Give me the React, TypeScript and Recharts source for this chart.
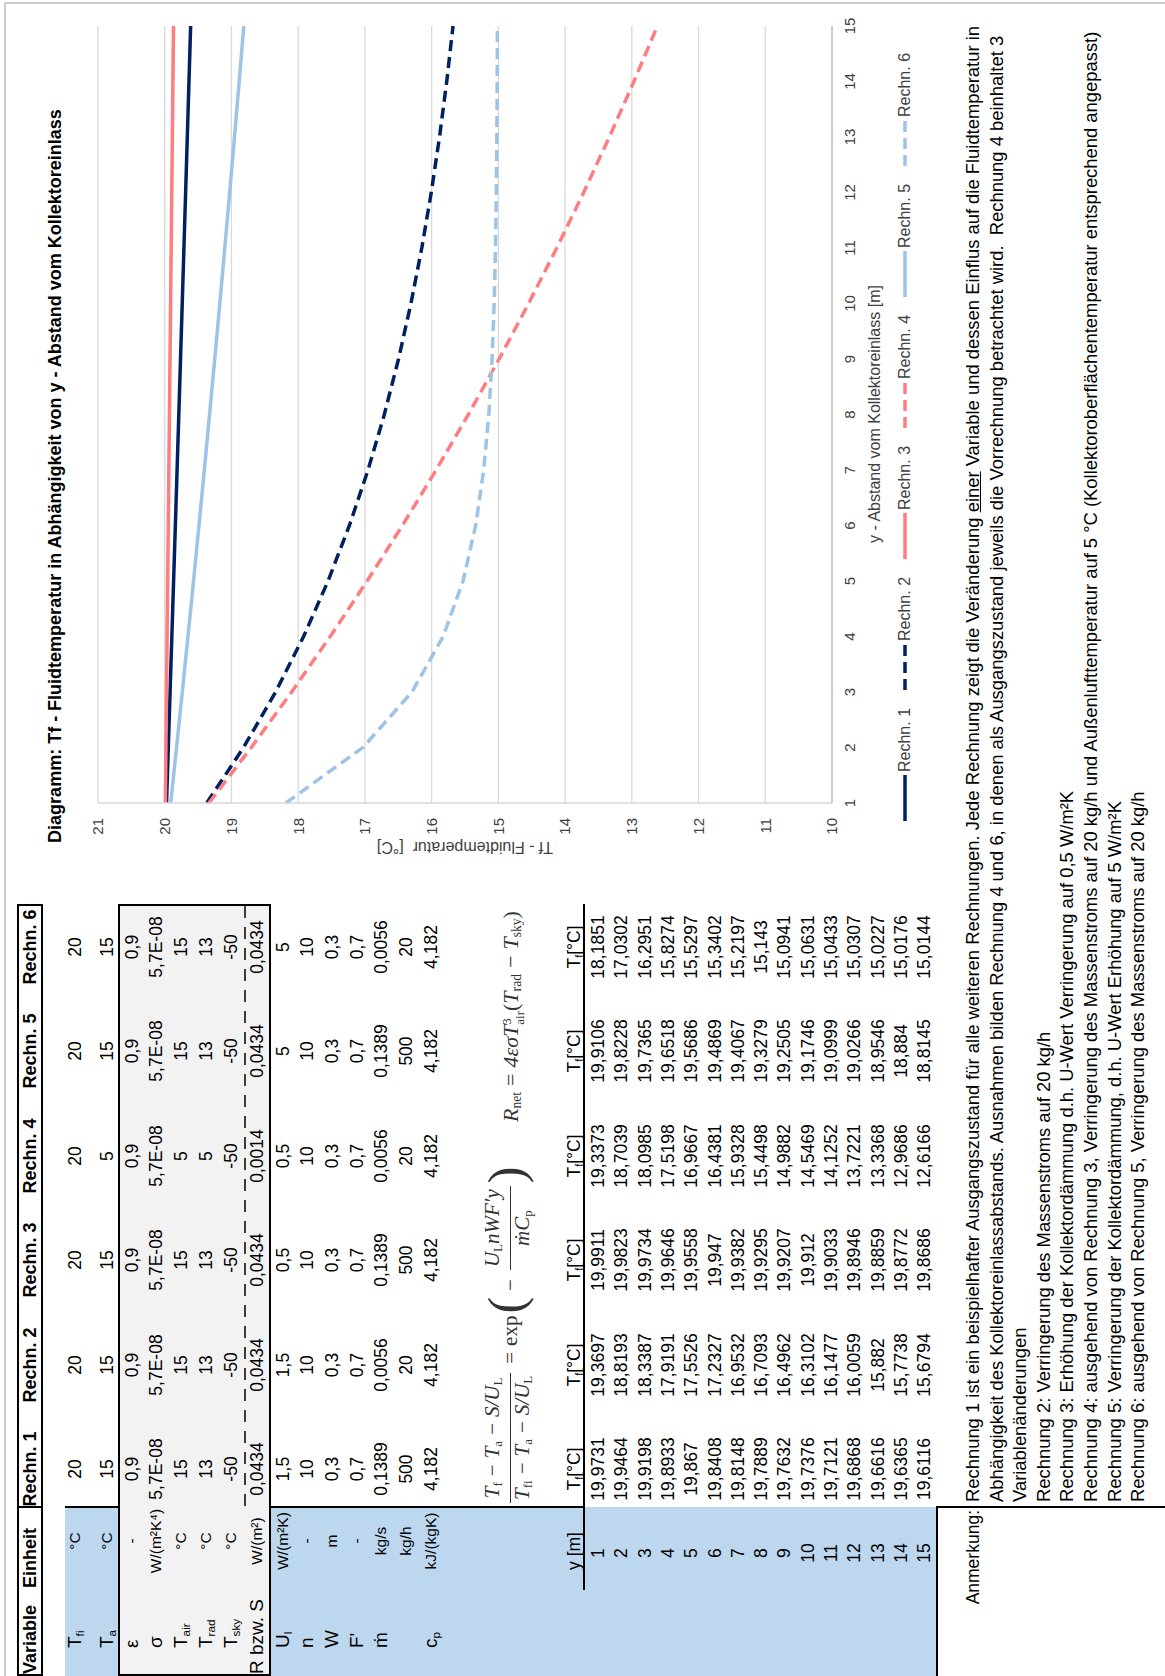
import React from 'react';
import { LineChart, Line, XAxis, YAxis, CartesianGrid, Legend } from 'recharts';

// ---------- data ----------
const positions = [1, 2, 3, 4, 5, 6, 7, 8, 9, 10, 11, 12, 13, 14, 15];
const rechn1 = [19.9731, 19.9464, 19.9198, 19.8933, 19.867, 19.8408, 19.8148, 19.7889, 19.7632, 19.7376, 19.7121, 19.6868, 19.6616, 19.6365, 19.6116];
const rechn2 = [19.3697, 18.8193, 18.3387, 17.9191, 17.5526, 17.2327, 16.9532, 16.7093, 16.4962, 16.3102, 16.1477, 16.0059, 15.882, 15.7738, 15.6794];
const rechn3 = [19.9911, 19.9823, 19.9734, 19.9646, 19.9558, 19.947, 19.9382, 19.9295, 19.9207, 19.912, 19.9033, 19.8946, 19.8859, 19.8772, 19.8686];
const rechn4 = [19.3373, 18.7039, 18.0985, 17.5198, 16.9667, 16.4381, 15.9328, 15.4498, 14.9882, 14.5469, 14.1252, 13.7221, 13.3368, 12.9686, 12.6166];
const rechn5 = [19.9106, 19.8228, 19.7365, 19.6518, 19.5686, 19.4869, 19.4067, 19.3279, 19.2505, 19.1746, 19.0999, 19.0266, 18.9546, 18.884, 18.8145];
const rechn6 = [18.1851, 17.0302, 16.2951, 15.8274, 15.5297, 15.3402, 15.2197, 15.143, 15.0941, 15.0631, 15.0433, 15.0307, 15.0227, 15.0176, 15.0144];

const rechnNames = ['Rechn. 1', 'Rechn. 2', 'Rechn. 3', 'Rechn. 4', 'Rechn. 5', 'Rechn. 6'];
const yTicks = [10, 11, 12, 13, 14, 15, 16, 17, 18, 19, 20, 21];

const varMain = ['T', 'T', 'ε', 'σ', 'T', 'T', 'T', 'R bzw. S', 'U', 'n', 'W', "F'", 'ṁ', '', 'c'];
const varSub = ['fi', 'a', '', '', 'air', 'rad', 'sky', '', 'l', '', '', '', '', '', 'p'];
const units = ['°C', '°C', '-', 'W/(m²K⁴)', '°C', '°C', '°C', 'W/(m²)', 'W/(m²K)', '-', 'm', '-', 'kg/s', 'kg/h', 'kJ/(kgK)'];
const params1 = ['20', '15', '0,9', '5,7E-08', '15', '13', '-50', '0,0434', '1,5', '10', '0,3', '0,7', '0,1389', '500', '4,182'];
const params2 = ['20', '15', '0,9', '5,7E-08', '15', '13', '-50', '0,0434', '1,5', '10', '0,3', '0,7', '0,0056', '20', '4,182'];
const params3 = ['20', '15', '0,9', '5,7E-08', '15', '13', '-50', '0,0434', '0,5', '10', '0,3', '0,7', '0,1389', '500', '4,182'];
const params4 = ['20', '5', '0,9', '5,7E-08', '5', '5', '-50', '0,0014', '0,5', '10', '0,3', '0,7', '0,0056', '20', '4,182'];
const params5 = ['20', '15', '0,9', '5,7E-08', '15', '13', '-50', '0,0434', '5', '10', '0,3', '0,7', '0,1389', '500', '4,182'];
const params6 = ['20', '15', '0,9', '5,7E-08', '15', '13', '-50', '0,0434', '5', '10', '0,3', '0,7', '0,0056', '20', '4,182'];

const noteLines = [
  'Rechnung 1 ist ein beispielhafter Ausgangszustand für alle weiteren Rechnungen. Jede Rechnung zeigt die Veränderung |einer| Variable und dessen Einflus auf die Fluidtemperatur in',
  'Abhängigkeit des Kollektoreinlassabstands. Ausnahmen bilden Rechnung 4 und 6, in denen als Ausgangszustand jeweils die Vorrechnung betrachtet wird.  Rechnung 4 beinhaltet 3',
  'Variablenänderungen',
  'Rechnung 2: Verringerung des Massenstroms auf 20 kg/h',
  'Rechnung 3: Erhöhung der Kollektordämmung d.h. U-Wert Verringerung auf 0,5 W/m²K',
  'Rechnung 4: ausgehend von Rechnung 3, Verringerung des Massenstroms auf 20 kg/h und Außenlufttemperatur auf 5 °C (Kollektoroberflächentemperatur entsprechend angepasst)',
  'Rechnung 5: Verringerung der Kollektordämmung, d.h. U-Wert Erhöhung auf 5 W/m²K',
  'Rechnung 6: ausgehend von Rechnung 5, Verringerung des Massenstroms auf 20 kg/h',
];

// ---------- derived ----------
const seriesValues = [rechn1, rechn2, rechn3, rechn4, rechn5, rechn6];
const paramCols = [params1, params2, params3, params4, params5, params6];
const chartData = positions.map((y, i) => ({
  y,
  r1: rechn1[i], r2: rechn2[i], r3: rechn3[i], r4: rechn4[i], r5: rechn5[i], r6: rechn6[i],
}));

const NAVY = '#002060';
const SALMON = '#FF7C80';
const LIGHTBLUE = '#9DC3E6';
const DASH = '11 6';
const seriesCfg = [
  { key: 'r1', color: NAVY, dash: undefined },
  { key: 'r2', color: NAVY, dash: DASH },
  { key: 'r3', color: SALMON, dash: undefined },
  { key: 'r4', color: SALMON, dash: DASH },
  { key: 'r5', color: LIGHTBLUE, dash: undefined },
  { key: 'r6', color: LIGHTBLUE, dash: DASH },
];

const fmt = (v: number) => String(v).replace('.', ',');

// ---------- layout (landscape coordinates) ----------
const colCenters = [207, 311, 416, 520, 625, 729];
const rowCenters = [75, 107, 132, 156, 181, 206, 231, 257, 283, 307, 332, 357, 381, 406, 431];
const tfRow0 = 598;
const tfPitch = 23.3;
const noteTop = 973;
const notePitch = 23.6;

const Cell = ({ x, y, w = 110, align = 'center', children, style }: any) => (
  <div
    style={{
      position: 'absolute',
      left: align === 'center' ? x - w / 2 : align === 'right' ? x - w : x,
      top: y - 11,
      width: w,
      height: 22,
      lineHeight: '22px',
      textAlign: align,
      whiteSpace: 'pre',
      ...style,
    }}
  >
    {children}
  </div>
);

const Box = ({ l, t, w, h, style }: any) => (
  <div style={{ position: 'absolute', left: l, top: t, width: w, height: h, boxSizing: 'border-box', ...style }} />
);

const Frac = ({ num, den }: any) => (
  <span style={{ display: 'inline-flex', flexDirection: 'column', alignItems: 'center', verticalAlign: 'middle', lineHeight: '23px', margin: '0 3px' }}>
    <span style={{ padding: '0 3px' }}>{num}</span>
    <span style={{ borderTop: '1.5px solid #333', padding: '0 3px', alignSelf: 'stretch', textAlign: 'center' }}>{den}</span>
  </span>
);

const sub = (s: string) => <sub style={{ fontSize: '0.62em', fontStyle: 'normal', verticalAlign: '-0.25em' }}>{s}</sub>;
const Op = ({ c, m = 6 }: any) => <span style={{ fontStyle: 'normal', margin: `0 ${m}px` }}>{c}</span>;

const LegendContent = () => {
  const offsets = [0, 131, 262, 393, 524, 655];
  return (
    <div style={{ position: 'relative', width: 800, height: 24 }}>
      {seriesCfg.map((s, i) => (
        <div key={s.key} style={{ position: 'absolute', left: offsets[i], top: 0, height: 24, display: 'flex', alignItems: 'center' }}>
          <svg width={46} height={10} style={{ display: 'block' }}>
            <line x1={0} y1={5} x2={46} y2={5} stroke={s.color} strokeWidth={3.5} strokeDasharray={s.dash} />
          </svg>
          <span style={{ marginLeft: 3, fontSize: 16, color: '#404040', fontFamily: '"Liberation Sans", Arial, sans-serif' }}>{rechnNames[i]}</span>
        </div>
      ))}
    </div>
  );
};

const Chart = () => (
  <div style={{ position: 'absolute', left: 780, top: 0, width: 880, height: 940 }}>
    <LineChart width={880} height={940} data={chartData} margin={{ top: 98, right: 10, left: 53, bottom: 68 }}>
      <CartesianGrid vertical={false} stroke="#D9D9D9" strokeWidth={1.3} />
      <XAxis
        dataKey="y"
        type="category"
        interval={0}
        tickSize={0}
        tickMargin={12}
        height={40}
        axisLine={{ stroke: '#BFBFBF', strokeWidth: 1.3 }}
        tick={{ fontSize: 15, fill: '#404040', fontFamily: '"Liberation Sans", Arial, sans-serif' }}
      />
      <YAxis
        type="number"
        domain={[10, 21]}
        ticks={yTicks}
        interval={0}
        width={40}
        tickSize={0}
        tickMargin={15}
        axisLine={{ stroke: '#D9D9D9', strokeWidth: 1.3 }}
        tick={{ fontSize: 15, fill: '#404040', fontFamily: '"Liberation Sans", Arial, sans-serif' }}
      />
      <Legend
        layout="horizontal"
        verticalAlign="middle"
        align="center"
        content={() => <LegendContent />}
        wrapperStyle={{ top: 893, left: 75, width: 800, height: 24 }}
      />
      {seriesCfg.map((s, i) => (
        <Line
          key={s.key}
          dataKey={s.key}
          name={rechnNames[i]}
          type="linear"
          stroke={s.color}
          strokeWidth={3.5}
          strokeDasharray={s.dash}
          dot={false}
          activeDot={false}
          isAnimationActive={false}
        />
      ))}
    </LineChart>
  </div>
);

const Landscape = () => (
  <div style={{ position: 'relative', width: 1676, height: 1165, color: '#000', fontFamily: '"Liberation Sans", Arial, sans-serif', fontSize: 17.5 }}>
    {/* page frame */}
    <Box l={-10} t={4} w={1684} h={1200} style={{ borderTop: '2px solid #CCCCCC', borderRight: '2px solid #CCCCCC' }} />

    {/* blue label areas */}
    <Box l={0} t={65} w={169} h={53} style={{ background: '#BDD7EE' }} />
    <Box l={0} t={270} w={169} h={667} style={{ background: '#BDD7EE' }} />
    {/* grey parameter box */}
    <Box l={0} t={118} w={772} h={153} style={{ background: '#F2F2F2', border: '2px solid #000' }} />
    <svg style={{ position: 'absolute', left: 0, top: 0 }} width={800} height={1165}>
      <line x1={170} y1={245} x2={770} y2={245} stroke="#000" strokeWidth={1.5} strokeDasharray="12 9" />
    </svg>
    {/* header box */}
    <Box l={0} t={17} w={772} h={26} style={{ border: '2px solid #000' }} />
    <Box l={168} t={17} w={2} h={26} style={{ background: '#000' }} />
    <Box l={168} t={65} w={2} h={53} style={{ background: '#000' }} />
    <Box l={168} t={270} w={2} h={315} style={{ background: '#000' }} />
    <Box l={86} t={583} w={686} h={2} style={{ background: '#000' }} />
    <Box l={0} t={936} w={170} h={2} style={{ background: '#000' }} />
    <Box l={168} t={936} w={2} h={240} style={{ background: '#000' }} />

    {/* header texts */}
    <Cell x={2} y={30} align="left" style={{ fontWeight: 'bold', fontSize: 18 }}>Variable</Cell>
    <Cell x={88} y={30} align="left" style={{ fontWeight: 'bold', fontSize: 18 }}>Einheit</Cell>
    {rechnNames.map((n, i) => (
      <Cell key={n} x={colCenters[i]} y={30} style={{ fontWeight: 'bold', fontSize: 18 }}>{n}</Cell>
    ))}

    {/* variable labels, units, values */}
    {varMain.map((m, r) => (
      <Cell key={'v' + r} x={m === 'R bzw. S' ? 2 : 28} y={rowCenters[r]} align="left" style={{ fontSize: 19 }}>
        {m}{varSub[r] ? sub(varSub[r]) : null}
      </Cell>
    ))}
    {units.map((u, r) => (
      <Cell key={'u' + r} x={135} y={rowCenters[r]} w={100} style={{ fontSize: 15.5 }}>{u}</Cell>
    ))}
    {paramCols.map((col, c) =>
      col.map((v, r) => (
        <Cell key={'p' + c + '-' + r} x={colCenters[c]} y={rowCenters[r]}>{v}</Cell>
      ))
    )}

    {/* formulas */}
    <div style={{ position: 'absolute', left: 170, top: 484, height: 52, display: 'flex', alignItems: 'center', fontFamily: '"Liberation Serif", "Times New Roman", serif', fontStyle: 'italic', fontSize: 21, color: '#333', whiteSpace: 'nowrap' }}>
      <Frac num={<>T{sub('f')}<Op c="−" />T{sub('a')}<Op c="−" />S/U{sub('L')}</>} den={<>T{sub('fi')}<Op c="−" />T{sub('a')}<Op c="−" />S/U{sub('L')}</>} />
      <Op c="=" />
      <span style={{ fontStyle: 'normal' }}>exp</span>
      <span style={{ fontStyle: 'normal', fontSize: 50, lineHeight: '50px', marginTop: -8, marginLeft: 2 }}>(</span>
      <Op c="−" />
      <Frac num={<>U{sub('L')}nWF′y</>} den={<>ṁC{sub('p')}</>} />
      <span style={{ fontStyle: 'normal', fontSize: 50, lineHeight: '50px', marginTop: -8 }}>)</span>
    </div>
    <div style={{ position: 'absolute', left: 554, top: 496, height: 30, lineHeight: '30px', fontFamily: '"Liberation Serif", "Times New Roman", serif', fontStyle: 'italic', fontSize: 22, color: '#333', whiteSpace: 'nowrap' }}>
      R{sub('net')}<Op c="=" />4εσT<span style={{ display: 'inline-flex', flexDirection: 'column', verticalAlign: 'middle', fontSize: 13, lineHeight: '13px', fontStyle: 'normal' }}><span>3</span><span>air</span></span><span style={{ fontStyle: 'normal' }}>(</span>T{sub('rad')}<Op c="−" />T{sub('sky')}<span style={{ fontStyle: 'normal' }}>)</span>
    </div>

    {/* Tf table */}
    <Cell x={125} y={574} w={80}>y [m]</Cell>
    {colCenters.map((cx, c) => (
      <Cell key={'h' + c} x={cx} y={574}>T{sub('f')}[°C]</Cell>
    ))}
    {positions.map((p, i) => (
      <Cell key={'y' + i} x={123} y={tfRow0 + i * tfPitch} w={60}>{String(p)}</Cell>
    ))}
    {seriesValues.map((vals, c) =>
      vals.map((v, i) => (
        <Cell key={'t' + c + '-' + i} x={colCenters[c]} y={tfRow0 + i * tfPitch}>{fmt(v)}</Cell>
      ))
    )}

    {/* notes */}
    <Cell x={166} y={noteTop} w={120} align="right" style={{ fontSize: 17.5 }}>Anmerkung:</Cell>
    {noteLines.map((line, i) => {
      const parts = line.split('|');
      return (
        <Cell key={'n' + i} x={174} y={noteTop + i * notePitch} w={1495} align="left" style={{ fontSize: 18.4 }}>
          {parts.map((p, j) => (j % 2 === 1 ? <span key={j} style={{ textDecoration: 'underline' }}>{p}</span> : <span key={j}>{p}</span>))}
        </Cell>
      );
    })}

    {/* chart */}
    <div style={{ position: 'absolute', left: 800, top: 43, width: 800, height: 24, lineHeight: '24px', textAlign: 'center', fontWeight: 'bold', fontSize: 18 }}>
      Diagramm: Tf - Fluidtemperatur in Abhängigkeit von y - Abstand vom Kollektoreinlass
    </div>
    <Chart />
    <div style={{ position: 'absolute', left: 829 - 150, top: 465 - 11, width: 300, height: 22, lineHeight: '22px', textAlign: 'center', fontSize: 16, color: '#404040', transform: 'rotate(-90deg)', whiteSpace: 'pre' }}>
      {'Tf - Fluidtemperatur  [°C]'}
    </div>
    <div style={{ position: 'absolute', left: 1262 - 250, top: 875 - 11, width: 500, height: 22, lineHeight: '22px', textAlign: 'center', fontSize: 16, color: '#404040' }}>
      y - Abstand vom Kollektoreinlass [m]
    </div>
  </div>
);

export default function App() {
  return (
    <div style={{ position: 'absolute', left: 0, top: 0, width: 1165, height: 1676, overflow: 'hidden', background: '#fff' }}>
      <div style={{ position: 'absolute', left: 0, top: 0, width: 1676, height: 1165, transformOrigin: '0 0', transform: 'translateY(1676px) rotate(-90deg)' }}>
        <Landscape />
      </div>
    </div>
  );
}
